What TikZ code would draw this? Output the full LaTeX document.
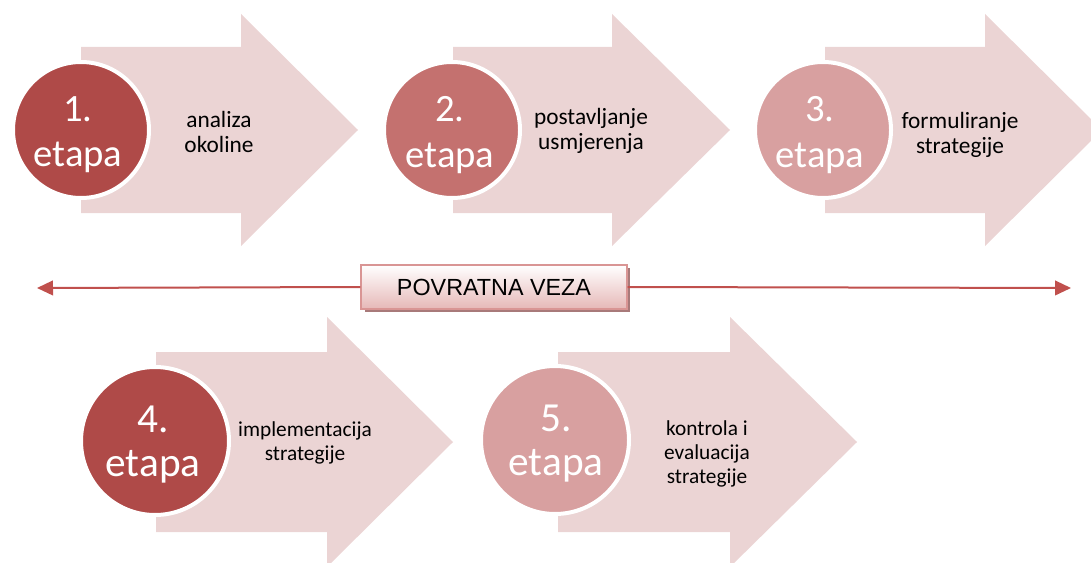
\documentclass[tikz,border=0pt]{standalone}
\usepackage{fontspec}
\setmainfont{Carlito}
\newfontfamily\boxfont{Liberation Sans}
\usepackage{tikz}
\usetikzlibrary{arrows.meta}
\usetikzlibrary{shadows}

\definecolor{arrowFill}{RGB}{235,212,212}
\definecolor{etapaDark}{RGB}{175,74,72}
\definecolor{etapaMid}{RGB}{196,113,111}
\definecolor{etapaLight}{RGB}{216,160,160}
\definecolor{fbRed}{RGB}{192,80,77}
\definecolor{fbBorder}{RGB}{217,149,148}
\definecolor{fbPink}{RGB}{230,184,183}
\definecolor{fbShadow}{RGB}{168,122,122}

\begin{document}
\begin{tikzpicture}[x=0.75pt,y=0.75pt,yscale=-1,xscale=1,
  stage/.style={circle, draw=white, line width=3pt, inner sep=0pt},
  stagetxt/.style={text=white, align=center, inner sep=0pt},
  desc/.style={align=center, inner sep=0pt, text=black}]
\useasboundingbox (0,0) rectangle (1091,563);

%Shape: Right Arrow
\draw [draw=none, fill=arrowFill] (81,47) -- (241,47) -- (241,14) -- (358,130) -- (241,246) -- (241,213) -- (81,213) -- cycle ;
%Shape: Right Arrow
\draw [draw=none, fill=arrowFill] (453,47) -- (612,47) -- (612,14) -- (730,130) -- (612,246) -- (612,213) -- (453,213) -- cycle ;
%Shape: Right Arrow
\draw [draw=none, fill=arrowFill] (825,47) -- (985,47) -- (985,14) -- (1102,130) -- (985,246) -- (985,213) -- (825,213) -- cycle ;
%Shape: Right Arrow
\draw [draw=none, fill=arrowFill] (156,352) -- (327,352) -- (327,317) -- (453,442) -- (327,567) -- (327,532) -- (156,532) -- cycle ;
%Shape: Right Arrow
\draw [draw=none, fill=arrowFill] (558,352) -- (730,352) -- (730,317) -- (857,442) -- (730,567) -- (730,532) -- (558,532) -- cycle ;

%Shape: Circle
\node [stage, fill=etapaDark, minimum size=102pt] (c1) at (81,130) {};
\node [stage, fill=etapaMid, minimum size=102pt] (c2) at (452,130) {};
\node [stage, fill=etapaLight, minimum size=102pt] (c3) at (823,130) {};
\node [stage, fill=etapaDark, minimum size=111pt] (c4) at (155,441) {};
\node [stage, fill=etapaLight, minimum size=111pt] (c5) at (555,440) {};

% Text Node
\node [stagetxt, font=\fontsize{29}{34}\selectfont] (t1) at (78,135) {1.\\etapa};
\node [stagetxt, font=\fontsize{29}{34}\selectfont] (t2) at (450,135) {2.\\etapa};
\node [stagetxt, font=\fontsize{29}{34}\selectfont] (t3) at (820,135) {3.\\etapa};
\node [stagetxt, font=\fontsize{31}{33}\selectfont] (t4) at (153,445) {4.\\etapa};
\node [stagetxt, font=\fontsize{31}{33}\selectfont] (t5) at (556,444) {5.\\etapa};

% Text Node
\node [desc, font=\fontsize{17.5}{19}\selectfont] (d1) at (219,132) {analiza\\okoline};
\node [desc, font=\fontsize{17.5}{19}\selectfont] (d2) at (591,131) {postavljanje\\usmjerenja};
\node [desc, font=\fontsize{17.5}{19}\selectfont] (d3) at (960,135) {formuliranje\\strategije};
\node [desc, font=\fontsize{16}{17.5}\selectfont] (d4) at (305,443) {implementacija\\strategije};
\node [desc, font=\fontsize{16}{18}\selectfont] (d5) at (707,454) {kontrola i\\evaluacija\\strategije};

% Feedback
\coordinate (fbL) at (37,288) ;
\coordinate (fbR) at (1071,288) ;
\node [draw=fbBorder, line width=1.5pt, top color=white, bottom color=fbPink,
       minimum width=199pt, minimum height=33pt, inner sep=0pt,
       drop shadow={shadow xshift=2.5pt, shadow yshift=-2.5pt, fill=fbShadow, opacity=1},
       font=\boxfont\fontsize{17.5}{20}\selectfont] (fb) at (494,287) {POVRATNA VEZA};
\draw [fbRed, line width=1.5pt, -{Triangle[length=12pt,width=11pt]}] (fb.west) -- (fbL) ;
\draw [fbRed, line width=1.5pt, -{Triangle[length=12pt,width=11pt]}] (fb.east) -- (fbR) ;

\end{tikzpicture}
\end{document}
